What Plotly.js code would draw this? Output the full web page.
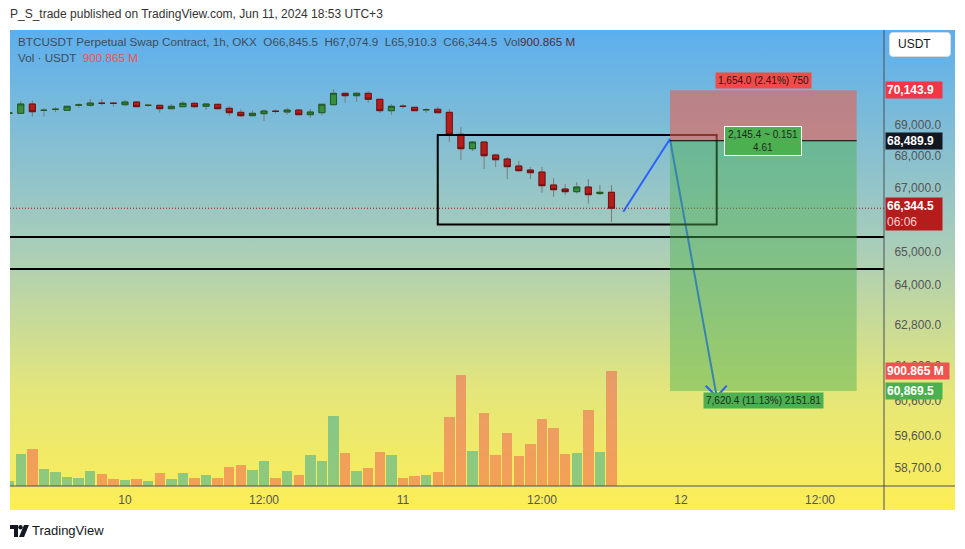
<!DOCTYPE html>
<html>
<head>
<meta charset="utf-8">
<script src="https://cdn.plot.ly/plotly-3.0.1.min.js"></script>
<style>
  body { margin:0; background:#fff; width:965px; height:549px; overflow:hidden; position:relative; font-family:"Liberation Sans", Arial, sans-serif; }
  #bg { position:absolute; left:10px; top:30px; width:945px; height:480px; background:linear-gradient(180deg,#5cafee 0%,#a9cdb9 45%,#e3e67a 75%,#fdee56 100%); }
  #chart { position:absolute; left:0; top:0; width:965px; height:549px; }
  .txt { position:absolute; white-space:pre; }
  #pub { left:10px; top:7px; font-size:12px; color:#333; }
  #leg1 { left:18px; top:35px; font-size:11.7px; color:#3f4c5c; }
  #leg2 { left:18px; top:51px; font-size:11.7px; color:#3f4c5c; }
  #usdt { position:absolute; left:889px; top:32px; width:62px; height:25px; background:#fff; border-radius:4px; border:1px solid #d8dde3; box-sizing:border-box; font-size:12px; color:#131722; line-height:23px; padding-left:8px; }
  #logo { position:absolute; left:10px; top:523px; font-size:13px; color:#131722; }
  #logo svg { vertical-align:-2px; margin-right:3px; }
</style>
</head>
<body>
<div id="bg"></div>
<div id="chart"></div>
<div class="txt" id="pub">P_S_trade published on TradingView.com, Jun 11, 2024 18:53 UTC+3</div>
<div class="txt" id="leg1">BTCUSDT Perpetual Swap Contract, 1h, OKX  O66,845.5  H67,074.9  L65,910.3  C66,344.5  Vol<span style="color:#5a2a35">900.865 M</span></div>
<div class="txt" id="leg2">Vol · USDT  <span style="color:#ef5350">900.865 M</span></div>
<div id="usdt">USDT</div>
<div id="logo" class="txt"><svg width="19" height="12" viewBox="0 0 19 12"><path d="M0 0h8v12h-4v-8h-4z" fill="#131722"/><circle cx="10.5" cy="2.2" r="2.2" fill="#131722"/><path d="M14 0h5l-5 12h-5z" fill="#131722"/></svg>TradingView</div>
<script>
// ---- data ----
const times = [
 '2024-06-09 14:00','2024-06-09 15:00','2024-06-09 16:00','2024-06-09 17:00','2024-06-09 18:00',
 '2024-06-09 19:00','2024-06-09 20:00','2024-06-09 21:00','2024-06-09 22:00','2024-06-09 23:00',
 '2024-06-10 00:00','2024-06-10 01:00','2024-06-10 02:00','2024-06-10 03:00','2024-06-10 04:00',
 '2024-06-10 05:00','2024-06-10 06:00','2024-06-10 07:00','2024-06-10 08:00','2024-06-10 09:00',
 '2024-06-10 10:00','2024-06-10 11:00','2024-06-10 12:00','2024-06-10 13:00','2024-06-10 14:00',
 '2024-06-10 15:00','2024-06-10 16:00','2024-06-10 17:00','2024-06-10 18:00','2024-06-10 19:00',
 '2024-06-10 20:00','2024-06-10 21:00','2024-06-10 22:00','2024-06-10 23:00',
 '2024-06-11 00:00','2024-06-11 01:00','2024-06-11 02:00','2024-06-11 03:00','2024-06-11 04:00',
 '2024-06-11 05:00','2024-06-11 06:00','2024-06-11 07:00','2024-06-11 08:00','2024-06-11 09:00',
 '2024-06-11 10:00','2024-06-11 11:00','2024-06-11 12:00','2024-06-11 13:00','2024-06-11 14:00',
 '2024-06-11 15:00','2024-06-11 16:00','2024-06-11 17:00','2024-06-11 18:00'];
const openP = [69385,69382,69687,69478,69510,69480,69652,69644,69712,69712,
 69664,69752,69642,69644,69532,69598,69710,69611,69677,69545,69414,69303,69369,69449,69424,69490,69336,69401,69664,70039,69960,70039,69841,69467,
 69613,69578,69498,69513,69414,68698,68233,68449,68031,67903,67679,67551,67488,67075,66949,66864,67012,66805,66845.5];
const highP = [69400,69785,69795,69555,69578,69620,69710,69851,69851,69715,
 69818,69785,69687,69650,69687,69785,69733,69690,69680,69621,69513,69480,69500,69500,69555,69522,69522,69680,70181,70042,70082,70105,69845,69687,
 69687,69580,69555,69588,69522,68935,68481,68470,68063,67967,67839,67647,67647,67297,67107,67170,67265,67075,67074.9];
const lowP = [69380,69380,69271,69271,69424,69475,69565,69598,69644,69598,
 69631,69595,69598,69401,69530,69595,69555,69490,69530,69293,69261,69300,69130,69369,69336,69333,69238,69316,69660,69729,69762,69729,69392,69336,
 69532,69465,69401,69398,68459,67871,68159,67583,67647,67265,67497,67265,66832,66706,66760,66801,66487,66760,65910.3];
const closeP = [69392,69687,69434,69480,69513,69611,69654,69719,69708,69708,
 69752,69598,69644,69532,69611,69710,69598,69687,69532,69401,69303,69382,69457,69445,69490,69336,69424,69677,70039,69960,70039,69841,69467,69611,
 69609,69467,69500,69401,68698,68233,68449,68008,67880,67657,67529,67466,67053,66927,66864,67012,66769,66845.5,66344.5];
const volumeM = [39,251,290,133,110,70,63,118,94,55,47,55,39,102,55,102,63,86,63,149,165,125,196,63,118,86,243,196,548,259,118,141,266,243,
 63,78,86,110,540,870,274,572,243,415,235,329,525,454,251,259,595,266,900.865];

const priceTicks = [58700,59600,60600,61600,62800,64000,65000,67000,68000,69000];
const priceTickText = ['58,700.0','59,600.0','60,600.0','61,600.0','62,800.0','64,000.0','65,000.0','67,000.0','68,000.0','69,000.0'];
const timeTicks = ['2024-06-10 00:00','2024-06-10 12:00','2024-06-11 00:00','2024-06-11 12:00','2024-06-12 00:00','2024-06-12 12:00'];
const timeTickText = ['10','12:00','11','12:00','12','12:00'];

// drawings (time / price)
const rectTimes = ['2024-06-11 03:00','2024-06-12 03:05'];
const rectPrices = [65838, 68675];
const levelPrices = [65451, 64471];
const posTimes = ['2024-06-11 23:03','2024-06-12 15:10'];
const posStop = 70143.9, posEntry = 68489.9, posTarget = 60869.5;
const arrowTimes = ['2024-06-11 19:01','2024-06-11 23:03','2024-06-12 03:05'];
const arrowPrices = [66236, 68546, 60704];
const lastPrice = 66344.5, lastVolume = 900.865;

// ---- build ----
const FONT = '"Liberation Sans", Arial, sans-serif';
const up = closeP.map((c,i)=> c >= openP[i]);
const bodyHigh = openP.map((o,i)=> Math.max(o, closeP[i]));
const bodyLow = openP.map((o,i)=> Math.min(o, closeP[i]));

const traces = [
 { type:'bar', x:times, y:volumeM, yaxis:'y2', width:3600000*0.9,
   marker:{ color: up.map(u => u ? 'rgba(38,166,154,0.5)' : 'rgba(239,83,80,0.5)'), line:{width:0} },
   hoverinfo:'skip', showlegend:false },
 { type:'candlestick', x:times, open:openP, high:highP, low:lowP, close:closeP,
   increasing:{ line:{color:'#7a7a7a', width:1}, fillcolor:'#388e3c' },
   decreasing:{ line:{color:'#7a7a7a', width:1}, fillcolor:'#b71c1c' },
   whiskerwidth:0, hoverinfo:'skip', showlegend:false },
 { type:'candlestick', x:times, open:openP, high:bodyHigh, low:bodyLow, close:closeP,
   increasing:{ line:{color:'#1d5a27', width:1}, fillcolor:'#388e3c' },
   decreasing:{ line:{color:'#6e1111', width:1}, fillcolor:'#b71c1c' },
   whiskerwidth:0, hoverinfo:'skip', showlegend:false },
 { type:'scatter', mode:'lines', x:arrowTimes, y:arrowPrices,
   line:{ color:'#2962ff', width:2 }, hoverinfo:'skip', showlegend:false }
];

const L10 = Math.log10;
const shapes = [
 { type:'rect', xref:'x', yref:'y', x0:rectTimes[0], x1:rectTimes[1], y0:rectPrices[0], y1:rectPrices[1],
   line:{color:'#000', width:2}, fillcolor:'rgba(0,0,0,0)' },
 ...levelPrices.map(p => ({ type:'line', xref:'paper', x0:0, x1:1, yref:'y', y0:p, y1:p, line:{color:'#000', width:2} })),
 { type:'line', xref:'paper', x0:0, x1:1, yref:'y', y0:lastPrice, y1:lastPrice, line:{color:'#a31515', width:1, dash:'1px,2px'} },
 { type:'rect', xref:'x', yref:'y', x0:posTimes[0], x1:posTimes[1], y0:posEntry, y1:posStop,
   line:{width:0}, fillcolor:'rgba(236,92,78,0.58)' },
 { type:'rect', xref:'x', yref:'y', x0:posTimes[0], x1:posTimes[1], y0:posTarget, y1:posEntry,
   line:{width:0}, fillcolor:'rgba(76,175,80,0.45)' },
 { type:'line', xref:'x', yref:'y', x0:posTimes[0], x1:posTimes[1], y0:posEntry, y1:posEntry, line:{color:'#000', width:1} },
 { type:'path', xref:'x', yref:'y', xsizemode:'pixel', ysizemode:'pixel', xanchor:arrowTimes[2], yanchor:arrowPrices[2],
   path:'M-11,11 L0,0 L10,11', line:{color:'#2962ff', width:2} },
 { type:'line', xref:'paper', yref:'paper', x0:0, x1:945/874, y0:0, y1:0, line:{color:'#4a4f5a', width:1} },
 { type:'line', xref:'paper', yref:'paper', x0:1, x1:1, y0:-24/456, y1:1, line:{color:'#4a4f5a', width:1} }
];

function axisLabel(price, text, bg, extra) {
  return Object.assign({ xref:'paper', x:1.0012, xanchor:'left', yref:'y', y:L10(price), yanchor:'middle',
    text:text, showarrow:false, bgcolor:bg, font:{color:'#fff', size:12, family:FONT}, width:54, align:'left', borderpad:1 }, extra||{});
}
const annotations = [
  axisLabel(posStop, '<b>70,143.9</b>', '#f23645'),
  axisLabel(posEntry, '<b>68,489.9</b>', '#131722'),
  axisLabel(lastPrice, '<b>66,344.5</b><br><span style="color:#f3d0d0">06:06</span>', '#b71c1c', { yshift:-6 }),
  axisLabel(posTarget, '<b>60,869.5</b>', '#4caf50'),
  { xref:'paper', x:1.0012, xanchor:'left', yref:'y2', y:lastVolume, yanchor:'middle', text:'<b>900.865 M</b>', showarrow:false,
    bgcolor:'#ef5350', font:{color:'#fff', size:12, family:FONT}, width:61, align:'left', borderpad:1 },
  { xref:'x', x:'2024-06-12 07:06', yref:'y', y:L10(posStop), yanchor:'bottom', yshift:1, text:'1,654.0 (2.41%) 750', showarrow:false,
    bgcolor:'#f44a4a', font:{color:'#2a1515', size:10, family:FONT}, borderpad:2 },
  { xref:'x', x:'2024-06-12 07:06', yref:'y', y:L10(posEntry), yanchor:'middle', text:'2,145.4 ~ 0.151<br>4.61', showarrow:false,
    bgcolor:'#4caf50', bordercolor:'#ffffff', borderwidth:1, font:{color:'#1f2a1f', size:10, family:FONT}, borderpad:2, width:72 },
  { xref:'x', x:'2024-06-12 07:06', yref:'y', y:L10(posTarget), yanchor:'top', yshift:-1, text:'7,620.4 (11.13%) 2151.81', showarrow:false,
    bgcolor:'#4caf50', font:{color:'#1f2a1f', size:10, family:FONT}, borderpad:2 }
];

const layout = {
  width:965, height:549, margin:{l:10, r:81, t:30, b:63},
  paper_bgcolor:'rgba(0,0,0,0)', plot_bgcolor:'rgba(0,0,0,0)',
  showlegend:false, boxgap:0.25, bargap:0,
  xaxis:{ type:'date', range:['2024-06-09 14:04:18','2024-06-12 17:31:36'], rangeslider:{visible:false},
    tickvals:timeTicks, ticktext:timeTickText, ticks:'outside', ticklen:3, tickcolor:'rgba(0,0,0,0)',
    showgrid:false, zeroline:false, showline:false, tickfont:{size:12, color:'#555', family:FONT}, fixedrange:true },
  yaxis:{ type:'log', side:'right', range:[L10(58201), L10(72161)], tickvals:priceTicks, ticktext:priceTickText,
    ticks:'outside', ticklen:7, tickcolor:'rgba(0,0,0,0)', showgrid:false, zeroline:false, showline:false,
    tickfont:{size:12, color:'#555', family:FONT}, fixedrange:true },
  yaxis2:{ overlaying:'y', range:[0, 3572], visible:false, fixedrange:true },
  shapes:shapes, annotations:annotations
};
Plotly.newPlot('chart', traces, layout, {staticPlot:true, displayModeBar:false});
</script>
</body>
</html>
